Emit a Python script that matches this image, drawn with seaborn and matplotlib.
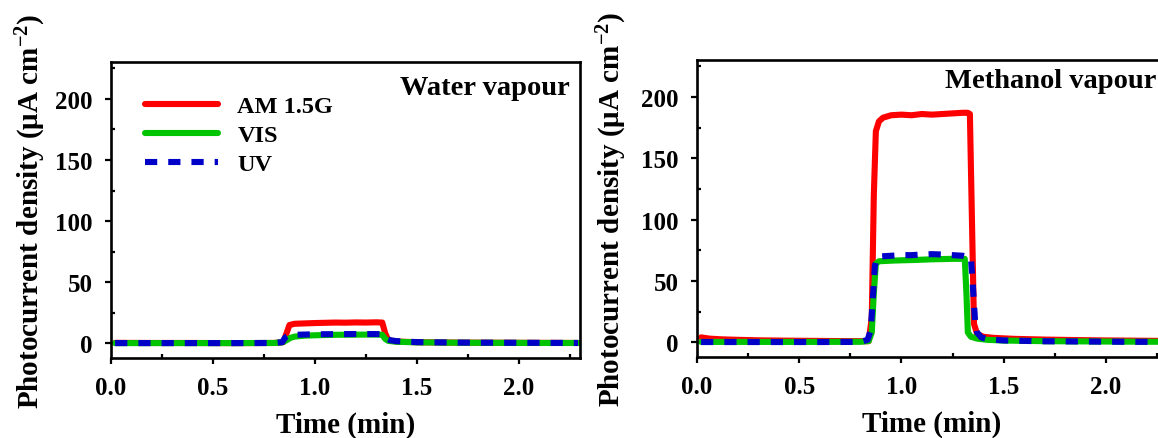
import numpy as np
import pandas as pd
import seaborn as sns
import matplotlib
matplotlib.use("Agg")
import matplotlib.pyplot as plt
from matplotlib.ticker import MultipleLocator

# ---------------- data ----------------
# Water vapour panel
t_w_am = [0.02, 0.20, 0.40, 0.60, 0.80, 0.845, 0.86, 0.875, 0.90, 0.95, 1.00, 1.05, 1.10, 1.15,
          1.20, 1.25, 1.30, 1.33, 1.345, 1.36, 1.40, 1.50, 1.70, 1.90, 2.10, 2.29]
am_w = [0.4, 0.3, 0.3, 0.2, 0.3, 1.0, 8.0, 15.0, 16.0, 16.3, 16.6, 16.8, 17.0, 16.9,
        17.1, 17.0, 17.2, 17.0, 8.0, 2.5, 1.5, 0.9, 0.6, 0.5, 0.4, 0.3]

t_w_vis = [0.02, 0.20, 0.40, 0.60, 0.80, 0.84, 0.86, 0.88, 0.90, 0.95, 1.00, 1.10, 1.20, 1.30,
           1.33, 1.345, 1.36, 1.40, 1.50, 1.70, 1.90, 2.10, 2.29]
vis_w = [0.2, 0.2, 0.2, 0.2, 0.3, 0.8, 2.5, 4.5, 5.5, 6.3, 6.6, 7.0, 7.1, 7.2,
         7.0, 3.5, 2.0, 1.3, 0.8, 0.5, 0.4, 0.3, 0.3]

t_w_uv = [0.02, 0.20, 0.40, 0.60, 0.80, 0.84, 0.855, 0.87, 0.90, 0.95, 1.00, 1.10, 1.20, 1.30,
          1.335, 1.35, 1.37, 1.40, 1.50, 1.70, 1.90, 2.10, 2.29]
uv_w = [0.2, 0.2, 0.2, 0.2, 0.3, 1.0, 5.0, 6.5, 7.0, 7.2, 7.4, 7.5, 7.6, 7.6,
        7.3, 4.0, 2.5, 1.8, 1.0, 0.6, 0.5, 0.4, 0.3]

# Methanol vapour panel
t_m_am = [0.02, 0.06, 0.12, 0.20, 0.30, 0.45, 0.60, 0.75, 0.84, 0.855, 0.865, 0.875, 0.89, 0.91,
          0.95, 1.00, 1.05, 1.10, 1.15, 1.20, 1.25, 1.30, 1.325, 1.335, 1.345, 1.355, 1.37, 1.40,
          1.45, 1.55, 1.70, 1.85, 2.00, 2.15, 2.29]
am_m = [4.0, 3.0, 2.4, 2.0, 1.6, 1.3, 1.1, 0.9, 0.9, 20.0, 120.0, 172.0, 180.0, 183.0,
        185.0, 185.5, 185.0, 186.0, 185.5, 186.0, 186.5, 187.0, 187.0, 186.0, 100.0, 15.0, 7.0, 4.5,
        3.6, 2.8, 2.2, 1.8, 1.5, 1.3, 1.1]

t_m_vis = [0.02, 0.20, 0.40, 0.60, 0.80, 0.84, 0.855, 0.865, 0.875, 0.89, 0.95, 1.00, 1.05, 1.10,
           1.15, 1.20, 1.25, 1.31, 1.318, 1.325, 1.34, 1.37, 1.42, 1.50, 1.70, 1.90, 2.10, 2.29]
vis_m = [0.3, 0.3, 0.3, 0.3, 0.4, 1.0, 8.0, 40.0, 64.0, 66.0, 66.5, 66.8, 67.0, 67.3,
         67.6, 67.8, 68.0, 68.0, 40.0, 8.0, 4.5, 3.0, 2.0, 1.4, 0.9, 0.7, 0.5, 0.4]

t_m_uv = [0.02, 0.20, 0.40, 0.60, 0.80, 0.835, 0.85, 0.86, 0.87, 0.88, 0.90, 0.95, 1.00, 1.05,
          1.10, 1.15, 1.20, 1.25, 1.30, 1.34, 1.35, 1.36, 1.37, 1.39, 1.42, 1.50, 1.70, 1.90,
          2.10, 2.29]
uv_m = [0.2, 0.2, 0.2, 0.2, 0.3, 2.0, 10.0, 35.0, 62.0, 69.0, 70.0, 70.5, 71.0, 71.0,
        71.5, 71.8, 71.5, 71.0, 70.5, 69.0, 45.0, 18.0, 8.0, 4.0, 2.5, 1.5, 0.8, 0.6,
        0.4, 0.3]

series_names = ["AM 1.5G", "VIS", "UV"]
panel_titles = ["Water vapour", "Methanol vapour"]
x_label = "Time (min)"
y_label = r"Photocurrent density (μA cm$^{-2}$)"
x_ticks = [0.0, 0.5, 1.0, 1.5, 2.0]
y_ticks = [0, 50, 100, 150, 200]

# ---------------- style ----------------
sns.set_theme(style="ticks")
plt.rcParams["font.family"] = ["Liberation Serif", "DejaVu Serif"]
plt.rcParams["font.weight"] = "bold"
plt.rcParams["mathtext.fontset"] = "custom"
plt.rcParams["mathtext.rm"] = "Liberation Serif:bold"
plt.rcParams["mathtext.it"] = "Liberation Serif:bold"
plt.rcParams["mathtext.bf"] = "Liberation Serif:bold"
plt.rcParams["axes.unicode_minus"] = False
plt.rcParams["text.color"] = "black"
plt.rcParams["axes.labelcolor"] = "black"
plt.rcParams["xtick.color"] = "black"
plt.rcParams["ytick.color"] = "black"
plt.rcParams["axes.edgecolor"] = "black"

colors = {"AM 1.5G": "#ff0000", "VIS": "#00c400", "UV": "#0000c8"}
LW = 4.4

fig = plt.figure(figsize=(11.58, 4.39), dpi=100)
ax1 = fig.add_axes([0.0959, 0.1822, 0.405, 0.674])
ax2 = fig.add_axes([0.6019, 0.1845, 0.406, 0.6765])

panels = [
    (ax1, [(t_w_am, am_w), (t_w_vis, vis_w), (t_w_uv, uv_w)]),
    (ax2, [(t_m_am, am_m), (t_m_vis, vis_m), (t_m_uv, uv_m)]),
]

for ax, data in panels:
    for name, (t, v) in zip(series_names, data):
        df = pd.DataFrame({"t": t, "v": v})
        sns.lineplot(data=df, x="t", y="v", ax=ax, color=colors[name], lw=LW,
                     label=name, sort=False, estimator=None)
    lines = ax.get_lines()
    lines[2].set_dashes((2.0, 1.8))
    ax.set_xlim(0, 2.3)
    ax.set_ylim(-12, 230)
    ax.xaxis.set_minor_locator(MultipleLocator(0.25))
    ax.yaxis.set_minor_locator(MultipleLocator(25))
    ax.set_xticks(x_ticks)
    ax.set_xticklabels([f"{x:.1f}" for x in x_ticks])
    ax.set_yticks(y_ticks)
    ax.set_yticklabels([str(y) for y in y_ticks])
    ax.tick_params(which="major", direction="out", length=4, width=1.6, pad=9,
                   labelsize=18, top=False, right=False, colors="black")
    ax.tick_params(which="minor", direction="in", length=3, width=1.6,
                   top=False, right=False, colors="black")
    for sp in ax.spines.values():
        sp.set_linewidth(1.9)
        sp.set_color("black")
    ax.set_xlabel(x_label, fontsize=21, fontweight="bold", color="black")
    ax.set_ylabel(y_label, fontsize=21, fontweight="bold", color="black")
    ax.xaxis.set_label_coords(0.5, -0.178)
    for lab in ax.get_xticklabels() + ax.get_yticklabels():
        lab.set_fontweight("bold")
        lab.set_color("black")
    if ax.get_legend() is not None:
        ax.get_legend().remove()

ax1.yaxis.set_label_coords(-0.134, 0.5)
ax2.yaxis.set_label_coords(-0.145, 0.5)

ax1.text(0.979, 0.915, panel_titles[0], transform=ax1.transAxes, ha="right", va="center",
         fontsize=20.5, fontweight="bold", color="black")
ax2.text(0.528, 0.932, panel_titles[1], transform=ax2.transAxes, ha="left", va="center",
         fontsize=20.5, fontweight="bold", color="black")

handles = ax1.get_lines()[:3]
leg = ax1.legend(handles, series_names, loc="upper left", bbox_to_anchor=(0.0725, 0.888),
                 frameon=False, handlelength=3.0, handletextpad=0.8,
                 labelspacing=0.29, borderpad=0, borderaxespad=0,
                 prop={"weight": "bold", "size": 17.5})
for txt in leg.get_texts():
    txt.set_color("black")

fig.savefig("out.png", dpi=100)
